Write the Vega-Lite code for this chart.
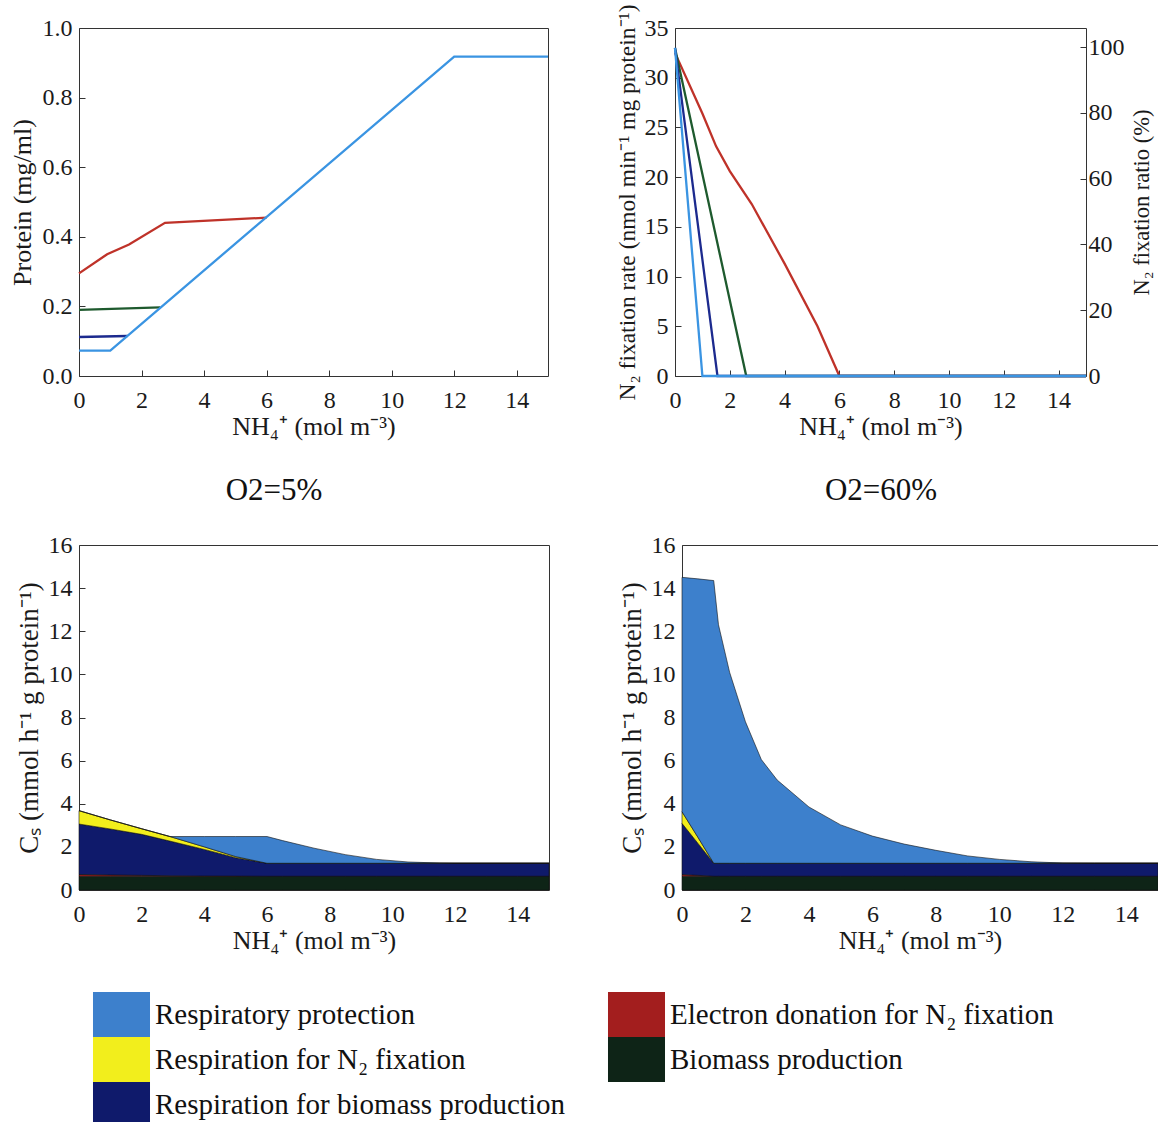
{
  "$schema": "https://vega.github.io/schema/vega-lite/v6.json",
  "padding": {"left": 8, "top": 3, "right": 0, "bottom": 0},
  "background": "white",
  "config": {
    "font": "Liberation Serif",
    "view": {"stroke": "#333", "strokeWidth": 1},
    "axis": {"labelFont": "Liberation Serif", "labelFontSize": 24, "labelColor": "#1a1a1a", "titleFont": "Liberation Serif", "titleFontSize": 26, "titleFontWeight": "normal", "titleColor": "#1a1a1a", "domain": false, "grid": false, "tickColor": "#333", "tickSize": -6, "tickWidth": 1, "labelFlush": false, "labelOverlap": false},
    "axisX": {"labelPadding": 18, "titlePadding": 1},
    "axisY": {"labelPadding": 13, "titlePadding": 5},
    "title": {"font": "Liberation Serif", "fontSize": 31, "fontWeight": "normal", "color": "#111"}
  },
  "datasets": {
    "protein": [
      {"s": "A", "x": 0, "p": 0.295}, {"s": "A", "x": 0.9, "p": 0.35}, {"s": "A", "x": 1.6, "p": 0.378}, {"s": "A", "x": 2.75, "p": 0.44}, {"s": "A", "x": 6.0, "p": 0.455},
      {"s": "B", "x": 0, "p": 0.19}, {"s": "B", "x": 2.6, "p": 0.197},
      {"s": "C", "x": 0, "p": 0.112}, {"s": "C", "x": 1.55, "p": 0.115},
      {"s": "D", "x": 0, "p": 0.073}, {"s": "D", "x": 1.0, "p": 0.073}, {"s": "D", "x": 12.0, "p": 0.918}, {"s": "D", "x": 15, "p": 0.918}
    ],
    "fix": [
      {"s": "A", "x": 0, "r": 32.5}, {"s": "A", "x": 1, "r": 26.4}, {"s": "A", "x": 1.5, "r": 23.1}, {"s": "A", "x": 2, "r": 20.6}, {"s": "A", "x": 2.8, "r": 17.3}, {"s": "A", "x": 4, "r": 11.3}, {"s": "A", "x": 5.2, "r": 5.0}, {"s": "A", "x": 6.0, "r": 0}, {"s": "A", "x": 15, "r": 0},
      {"s": "B", "x": 0, "r": 33}, {"s": "B", "x": 2.6, "r": 0}, {"s": "B", "x": 15, "r": 0},
      {"s": "C", "x": 0, "r": 33}, {"s": "C", "x": 1.55, "r": 0}, {"s": "C", "x": 15, "r": 0},
      {"s": "D", "x": 0, "r": 33}, {"s": "D", "x": 1.0, "r": 0}, {"s": "D", "x": 15, "r": 0}
    ],
    "ratio": [{"x": 0, "q": 100}, {"x": 6, "q": 0}],
    "bl": [
      {"c": "Biomass production", "k": 1, "x": 0, "v": 0.64}, {"c": "Biomass production", "k": 1, "x": 1, "v": 0.64}, {"c": "Biomass production", "k": 1, "x": 2, "v": 0.64}, {"c": "Biomass production", "k": 1, "x": 2.9, "v": 0.64}, {"c": "Biomass production", "k": 1, "x": 4, "v": 0.64}, {"c": "Biomass production", "k": 1, "x": 5, "v": 0.64}, {"c": "Biomass production", "k": 1, "x": 6, "v": 0.64}, {"c": "Biomass production", "k": 1, "x": 6.5, "v": 0.64}, {"c": "Biomass production", "k": 1, "x": 7.5, "v": 0.64}, {"c": "Biomass production", "k": 1, "x": 8.5, "v": 0.64}, {"c": "Biomass production", "k": 1, "x": 9.5, "v": 0.64}, {"c": "Biomass production", "k": 1, "x": 10.5, "v": 0.64}, {"c": "Biomass production", "k": 1, "x": 11.5, "v": 0.64}, {"c": "Biomass production", "k": 1, "x": 12, "v": 0.64}, {"c": "Biomass production", "k": 1, "x": 13, "v": 0.64}, {"c": "Biomass production", "k": 1, "x": 14, "v": 0.64}, {"c": "Biomass production", "k": 1, "x": 15, "v": 0.64},
      {"c": "Electron donation for N₂ fixation", "k": 2, "x": 0, "v": 0.08}, {"c": "Electron donation for N₂ fixation", "k": 2, "x": 1, "v": 0.06}, {"c": "Electron donation for N₂ fixation", "k": 2, "x": 2, "v": 0.04}, {"c": "Electron donation for N₂ fixation", "k": 2, "x": 2.9, "v": 0.02}, {"c": "Electron donation for N₂ fixation", "k": 2, "x": 4, "v": 0.01}, {"c": "Electron donation for N₂ fixation", "k": 2, "x": 5, "v": 0.005}, {"c": "Electron donation for N₂ fixation", "k": 2, "x": 6, "v": 0}, {"c": "Electron donation for N₂ fixation", "k": 2, "x": 6.5, "v": 0}, {"c": "Electron donation for N₂ fixation", "k": 2, "x": 7.5, "v": 0}, {"c": "Electron donation for N₂ fixation", "k": 2, "x": 8.5, "v": 0}, {"c": "Electron donation for N₂ fixation", "k": 2, "x": 9.5, "v": 0}, {"c": "Electron donation for N₂ fixation", "k": 2, "x": 10.5, "v": 0}, {"c": "Electron donation for N₂ fixation", "k": 2, "x": 11.5, "v": 0}, {"c": "Electron donation for N₂ fixation", "k": 2, "x": 12, "v": 0}, {"c": "Electron donation for N₂ fixation", "k": 2, "x": 13, "v": 0}, {"c": "Electron donation for N₂ fixation", "k": 2, "x": 14, "v": 0}, {"c": "Electron donation for N₂ fixation", "k": 2, "x": 15, "v": 0},
      {"c": "Respiration for biomass production", "k": 3, "x": 0, "v": 2.34}, {"c": "Respiration for biomass production", "k": 3, "x": 1, "v": 2.13}, {"c": "Respiration for biomass production", "k": 3, "x": 2, "v": 1.9}, {"c": "Respiration for biomass production", "k": 3, "x": 2.9, "v": 1.61}, {"c": "Respiration for biomass production", "k": 3, "x": 4, "v": 1.23}, {"c": "Respiration for biomass production", "k": 3, "x": 5, "v": 0.855}, {"c": "Respiration for biomass production", "k": 3, "x": 6, "v": 0.6}, {"c": "Respiration for biomass production", "k": 3, "x": 6.5, "v": 0.6}, {"c": "Respiration for biomass production", "k": 3, "x": 7.5, "v": 0.6}, {"c": "Respiration for biomass production", "k": 3, "x": 8.5, "v": 0.6}, {"c": "Respiration for biomass production", "k": 3, "x": 9.5, "v": 0.6}, {"c": "Respiration for biomass production", "k": 3, "x": 10.5, "v": 0.6}, {"c": "Respiration for biomass production", "k": 3, "x": 11.5, "v": 0.6}, {"c": "Respiration for biomass production", "k": 3, "x": 12, "v": 0.6}, {"c": "Respiration for biomass production", "k": 3, "x": 13, "v": 0.6}, {"c": "Respiration for biomass production", "k": 3, "x": 14, "v": 0.6}, {"c": "Respiration for biomass production", "k": 3, "x": 15, "v": 0.6},
      {"c": "Respiration for N₂ fixation", "k": 4, "x": 0, "v": 0.62}, {"c": "Respiration for N₂ fixation", "k": 4, "x": 1, "v": 0.42}, {"c": "Respiration for N₂ fixation", "k": 4, "x": 2, "v": 0.26}, {"c": "Respiration for N₂ fixation", "k": 4, "x": 2.9, "v": 0.21}, {"c": "Respiration for N₂ fixation", "k": 4, "x": 4, "v": 0.12}, {"c": "Respiration for N₂ fixation", "k": 4, "x": 5, "v": 0.05}, {"c": "Respiration for N₂ fixation", "k": 4, "x": 6, "v": 0}, {"c": "Respiration for N₂ fixation", "k": 4, "x": 6.5, "v": 0}, {"c": "Respiration for N₂ fixation", "k": 4, "x": 7.5, "v": 0}, {"c": "Respiration for N₂ fixation", "k": 4, "x": 8.5, "v": 0}, {"c": "Respiration for N₂ fixation", "k": 4, "x": 9.5, "v": 0}, {"c": "Respiration for N₂ fixation", "k": 4, "x": 10.5, "v": 0}, {"c": "Respiration for N₂ fixation", "k": 4, "x": 11.5, "v": 0}, {"c": "Respiration for N₂ fixation", "k": 4, "x": 12, "v": 0}, {"c": "Respiration for N₂ fixation", "k": 4, "x": 13, "v": 0}, {"c": "Respiration for N₂ fixation", "k": 4, "x": 14, "v": 0}, {"c": "Respiration for N₂ fixation", "k": 4, "x": 15, "v": 0},
      {"c": "Respiratory protection", "k": 5, "x": 0, "v": 0}, {"c": "Respiratory protection", "k": 5, "x": 1, "v": 0}, {"c": "Respiratory protection", "k": 5, "x": 2, "v": 0}, {"c": "Respiratory protection", "k": 5, "x": 2.9, "v": 0}, {"c": "Respiratory protection", "k": 5, "x": 4, "v": 0.48}, {"c": "Respiratory protection", "k": 5, "x": 5, "v": 0.93}, {"c": "Respiratory protection", "k": 5, "x": 6, "v": 1.24}, {"c": "Respiratory protection", "k": 5, "x": 6.5, "v": 1.05}, {"c": "Respiratory protection", "k": 5, "x": 7.5, "v": 0.7}, {"c": "Respiratory protection", "k": 5, "x": 8.5, "v": 0.4}, {"c": "Respiratory protection", "k": 5, "x": 9.5, "v": 0.18}, {"c": "Respiratory protection", "k": 5, "x": 10.5, "v": 0.06}, {"c": "Respiratory protection", "k": 5, "x": 11.5, "v": 0.01}, {"c": "Respiratory protection", "k": 5, "x": 12, "v": 0}, {"c": "Respiratory protection", "k": 5, "x": 13, "v": 0}, {"c": "Respiratory protection", "k": 5, "x": 14, "v": 0}, {"c": "Respiratory protection", "k": 5, "x": 15, "v": 0}
    ],
    "br": [
      {"c": "Biomass production", "k": 1, "x": 0, "v": 0.64}, {"c": "Biomass production", "k": 1, "x": 0.5, "v": 0.64}, {"c": "Biomass production", "k": 1, "x": 1, "v": 0.64}, {"c": "Biomass production", "k": 1, "x": 1.15, "v": 0.64}, {"c": "Biomass production", "k": 1, "x": 1.5, "v": 0.64}, {"c": "Biomass production", "k": 1, "x": 2, "v": 0.64}, {"c": "Biomass production", "k": 1, "x": 2.5, "v": 0.64}, {"c": "Biomass production", "k": 1, "x": 3, "v": 0.64}, {"c": "Biomass production", "k": 1, "x": 4, "v": 0.64}, {"c": "Biomass production", "k": 1, "x": 5, "v": 0.64}, {"c": "Biomass production", "k": 1, "x": 6, "v": 0.64}, {"c": "Biomass production", "k": 1, "x": 7, "v": 0.64}, {"c": "Biomass production", "k": 1, "x": 8, "v": 0.64}, {"c": "Biomass production", "k": 1, "x": 9, "v": 0.64}, {"c": "Biomass production", "k": 1, "x": 10, "v": 0.64}, {"c": "Biomass production", "k": 1, "x": 11, "v": 0.64}, {"c": "Biomass production", "k": 1, "x": 12, "v": 0.64}, {"c": "Biomass production", "k": 1, "x": 13, "v": 0.64}, {"c": "Biomass production", "k": 1, "x": 14, "v": 0.64}, {"c": "Biomass production", "k": 1, "x": 15, "v": 0.64},
      {"c": "Electron donation for N₂ fixation", "k": 2, "x": 0, "v": 0.08}, {"c": "Electron donation for N₂ fixation", "k": 2, "x": 0.5, "v": 0.04}, {"c": "Electron donation for N₂ fixation", "k": 2, "x": 1, "v": 0}, {"c": "Electron donation for N₂ fixation", "k": 2, "x": 1.15, "v": 0}, {"c": "Electron donation for N₂ fixation", "k": 2, "x": 1.5, "v": 0}, {"c": "Electron donation for N₂ fixation", "k": 2, "x": 2, "v": 0}, {"c": "Electron donation for N₂ fixation", "k": 2, "x": 2.5, "v": 0}, {"c": "Electron donation for N₂ fixation", "k": 2, "x": 3, "v": 0}, {"c": "Electron donation for N₂ fixation", "k": 2, "x": 4, "v": 0}, {"c": "Electron donation for N₂ fixation", "k": 2, "x": 5, "v": 0}, {"c": "Electron donation for N₂ fixation", "k": 2, "x": 6, "v": 0}, {"c": "Electron donation for N₂ fixation", "k": 2, "x": 7, "v": 0}, {"c": "Electron donation for N₂ fixation", "k": 2, "x": 8, "v": 0}, {"c": "Electron donation for N₂ fixation", "k": 2, "x": 9, "v": 0}, {"c": "Electron donation for N₂ fixation", "k": 2, "x": 10, "v": 0}, {"c": "Electron donation for N₂ fixation", "k": 2, "x": 11, "v": 0}, {"c": "Electron donation for N₂ fixation", "k": 2, "x": 12, "v": 0}, {"c": "Electron donation for N₂ fixation", "k": 2, "x": 13, "v": 0}, {"c": "Electron donation for N₂ fixation", "k": 2, "x": 14, "v": 0}, {"c": "Electron donation for N₂ fixation", "k": 2, "x": 15, "v": 0},
      {"c": "Respiration for biomass production", "k": 3, "x": 0, "v": 2.37}, {"c": "Respiration for biomass production", "k": 3, "x": 0.5, "v": 1.49}, {"c": "Respiration for biomass production", "k": 3, "x": 1, "v": 0.6}, {"c": "Respiration for biomass production", "k": 3, "x": 1.15, "v": 0.6}, {"c": "Respiration for biomass production", "k": 3, "x": 1.5, "v": 0.6}, {"c": "Respiration for biomass production", "k": 3, "x": 2, "v": 0.6}, {"c": "Respiration for biomass production", "k": 3, "x": 2.5, "v": 0.6}, {"c": "Respiration for biomass production", "k": 3, "x": 3, "v": 0.6}, {"c": "Respiration for biomass production", "k": 3, "x": 4, "v": 0.6}, {"c": "Respiration for biomass production", "k": 3, "x": 5, "v": 0.6}, {"c": "Respiration for biomass production", "k": 3, "x": 6, "v": 0.6}, {"c": "Respiration for biomass production", "k": 3, "x": 7, "v": 0.6}, {"c": "Respiration for biomass production", "k": 3, "x": 8, "v": 0.6}, {"c": "Respiration for biomass production", "k": 3, "x": 9, "v": 0.6}, {"c": "Respiration for biomass production", "k": 3, "x": 10, "v": 0.6}, {"c": "Respiration for biomass production", "k": 3, "x": 11, "v": 0.6}, {"c": "Respiration for biomass production", "k": 3, "x": 12, "v": 0.6}, {"c": "Respiration for biomass production", "k": 3, "x": 13, "v": 0.6}, {"c": "Respiration for biomass production", "k": 3, "x": 14, "v": 0.6}, {"c": "Respiration for biomass production", "k": 3, "x": 15, "v": 0.6},
      {"c": "Respiration for N₂ fixation", "k": 4, "x": 0, "v": 0.54}, {"c": "Respiration for N₂ fixation", "k": 4, "x": 0.5, "v": 0.28}, {"c": "Respiration for N₂ fixation", "k": 4, "x": 1, "v": 0}, {"c": "Respiration for N₂ fixation", "k": 4, "x": 1.15, "v": 0}, {"c": "Respiration for N₂ fixation", "k": 4, "x": 1.5, "v": 0}, {"c": "Respiration for N₂ fixation", "k": 4, "x": 2, "v": 0}, {"c": "Respiration for N₂ fixation", "k": 4, "x": 2.5, "v": 0}, {"c": "Respiration for N₂ fixation", "k": 4, "x": 3, "v": 0}, {"c": "Respiration for N₂ fixation", "k": 4, "x": 4, "v": 0}, {"c": "Respiration for N₂ fixation", "k": 4, "x": 5, "v": 0}, {"c": "Respiration for N₂ fixation", "k": 4, "x": 6, "v": 0}, {"c": "Respiration for N₂ fixation", "k": 4, "x": 7, "v": 0}, {"c": "Respiration for N₂ fixation", "k": 4, "x": 8, "v": 0}, {"c": "Respiration for N₂ fixation", "k": 4, "x": 9, "v": 0}, {"c": "Respiration for N₂ fixation", "k": 4, "x": 10, "v": 0}, {"c": "Respiration for N₂ fixation", "k": 4, "x": 11, "v": 0}, {"c": "Respiration for N₂ fixation", "k": 4, "x": 12, "v": 0}, {"c": "Respiration for N₂ fixation", "k": 4, "x": 13, "v": 0}, {"c": "Respiration for N₂ fixation", "k": 4, "x": 14, "v": 0}, {"c": "Respiration for N₂ fixation", "k": 4, "x": 15, "v": 0},
      {"c": "Respiratory protection", "k": 5, "x": 0, "v": 10.87}, {"c": "Respiratory protection", "k": 5, "x": 0.5, "v": 11.98}, {"c": "Respiratory protection", "k": 5, "x": 1, "v": 13.11}, {"c": "Respiratory protection", "k": 5, "x": 1.15, "v": 11.06}, {"c": "Respiratory protection", "k": 5, "x": 1.5, "v": 8.86}, {"c": "Respiratory protection", "k": 5, "x": 2, "v": 6.56}, {"c": "Respiratory protection", "k": 5, "x": 2.5, "v": 4.81}, {"c": "Respiratory protection", "k": 5, "x": 3, "v": 3.86}, {"c": "Respiratory protection", "k": 5, "x": 4, "v": 2.61}, {"c": "Respiratory protection", "k": 5, "x": 5, "v": 1.78}, {"c": "Respiratory protection", "k": 5, "x": 6, "v": 1.26}, {"c": "Respiratory protection", "k": 5, "x": 7, "v": 0.89}, {"c": "Respiratory protection", "k": 5, "x": 8, "v": 0.6}, {"c": "Respiratory protection", "k": 5, "x": 9, "v": 0.34}, {"c": "Respiratory protection", "k": 5, "x": 10, "v": 0.18}, {"c": "Respiratory protection", "k": 5, "x": 11, "v": 0.07}, {"c": "Respiratory protection", "k": 5, "x": 12, "v": 0.01}, {"c": "Respiratory protection", "k": 5, "x": 13, "v": 0}, {"c": "Respiratory protection", "k": 5, "x": 14, "v": 0}, {"c": "Respiratory protection", "k": 5, "x": 15, "v": 0}
    ]
  },
  "bounds": "flush",
  "spacing": 517,
  "vconcat": [
    {
      "bounds": "flush",
      "spacing": 127,
      "hconcat": [
        {
          "width": 469, "height": 348,
          "data": {"name": "protein"},
          "mark": {"type": "line", "strokeWidth": 2.3},
          "encoding": {
            "x": {"field": "x", "type": "quantitative", "scale": {"domain": [0, 15], "nice": false}, "axis": {"values": [0, 2, 4, 6, 8, 10, 12, 14], "title": "NH₄⁺ (mol m⁻³)"}},
            "y": {"field": "p", "type": "quantitative", "scale": {"domain": [0, 1], "nice": false}, "axis": {"values": [0, 0.2, 0.4, 0.6, 0.8, 1.0], "format": ".1f", "title": "Protein (mg/ml)", "titlePadding": 7}},
            "stroke": {"field": "s", "type": "nominal", "scale": {"domain": ["A", "B", "C", "D"], "range": ["#bf3229", "#1e5a2e", "#1c2a8e", "#3a94e2"]}, "legend": null}
          }
        },
        {
          "width": 411, "height": 348,
          "layer": [
            {
              "data": {"name": "fix"},
              "mark": {"type": "line", "strokeWidth": 2.3},
              "encoding": {
                "x": {"field": "x", "type": "quantitative", "scale": {"domain": [0, 15], "nice": false}, "axis": {"values": [0, 2, 4, 6, 8, 10, 12, 14], "title": "NH₄⁺ (mol m⁻³)"}},
                "y": {"field": "r", "type": "quantitative", "scale": {"domain": [0, 35], "nice": false}, "axis": {"values": [0, 5, 10, 15, 20, 25, 30, 35], "title": "N₂ fixation rate (nmol min⁻¹ mg protein⁻¹)", "titleFontSize": 23.5}},
                "stroke": {"field": "s", "type": "nominal", "scale": {"domain": ["A", "B", "C", "D"], "range": ["#bf3229", "#1e5a2e", "#1c2a8e", "#3a94e2"]}, "legend": null}
              }
            },
            {
              "data": {"name": "ratio"},
              "mark": {"type": "point", "opacity": 0},
              "encoding": {
                "x": {"field": "x", "type": "quantitative", "scale": {"domain": [0, 15], "nice": false}},
                "y": {"field": "q", "type": "quantitative", "scale": {"domain": [0, 105.8], "nice": false}, "axis": {"orient": "right", "values": [0, 20, 40, 60, 80, 100], "title": "N₂ fixation ratio (%)", "titleFontSize": 22.5, "titleAngle": 270, "titleBaseline": "top", "labelPadding": 8, "titlePadding": 6}}
              }
            }
          ],
          "resolve": {"scale": {"y": "independent"}}
        }
      ]
    },
    {
      "bounds": "flush",
      "spacing": 133,
      "hconcat": [
        {
          "width": 470, "height": 345,
          "title": {"text": "O2=5%", "anchor": "middle", "offset": 26, "dx": -40},
          "data": {"name": "bl"},
          "mark": {"type": "area", "opacity": 1, "stroke": "#111", "strokeWidth": 0.6},
          "encoding": {
            "x": {"field": "x", "type": "quantitative", "scale": {"domain": [0, 15], "nice": false}, "axis": {"values": [0, 2, 4, 6, 8, 10, 12, 14], "title": "NH₄⁺ (mol m⁻³)"}},
            "y": {"field": "v", "type": "quantitative", "stack": "zero", "scale": {"domain": [0, 16], "nice": false}, "axis": {"values": [0, 2, 4, 6, 8, 10, 12, 14, 16], "title": "Cₛ (mmol h⁻¹ g protein⁻¹)", "titleFontSize": 27}},
            "color": {"field": "c", "type": "nominal", "scale": {"domain": ["Respiratory protection", "Respiration for N₂ fixation", "Respiration for biomass production", "Electron donation for N₂ fixation", "Biomass production"], "range": ["#3d80cc", "#f2ee1c", "#0f1a6b", "#a31e1e", "#0e2417"]},
              "legend": {"orient": "none", "legendX": 14, "legendY": 964, "columns": 2, "title": null, "symbolType": "M-1.267,-1L1.267,-1L1.267,1L-1.267,1Z", "symbolSize": 2025, "symbolOffset": 6, "symbolStrokeWidth": 0, "symbolOpacity": 1, "labelFont": "Liberation Serif", "labelFontSize": 29, "labelColor": "#111", "labelOffset": 11, "labelLimit": 700, "rowPadding": 0, "columnPadding": 42}},
            "order": {"field": "k", "type": "quantitative"}
          }
        },
        {
          "width": 476, "height": 345,
          "title": {"text": "O2=60%", "anchor": "middle", "offset": 26, "dx": -39},
          "data": {"name": "br"},
          "mark": {"type": "area", "opacity": 1, "stroke": "#111", "strokeWidth": 0.6},
          "encoding": {
            "x": {"field": "x", "type": "quantitative", "scale": {"domain": [0, 15], "nice": false}, "axis": {"values": [0, 2, 4, 6, 8, 10, 12, 14], "title": "NH₄⁺ (mol m⁻³)"}},
            "y": {"field": "v", "type": "quantitative", "stack": "zero", "scale": {"domain": [0, 16], "nice": false}, "axis": {"values": [0, 2, 4, 6, 8, 10, 12, 14, 16], "title": "Cₛ (mmol h⁻¹ g protein⁻¹)", "titleFontSize": 27}},
            "color": {"field": "c", "type": "nominal", "scale": {"domain": ["Respiratory protection", "Respiration for N₂ fixation", "Respiration for biomass production", "Electron donation for N₂ fixation", "Biomass production"], "range": ["#3d80cc", "#f2ee1c", "#0f1a6b", "#a31e1e", "#0e2417"]},
              "legend": {"orient": "none", "legendX": 14, "legendY": 964, "columns": 2, "title": null, "symbolType": "M-1.267,-1L1.267,-1L1.267,1L-1.267,1Z", "symbolSize": 2025, "symbolOffset": 6, "symbolStrokeWidth": 0, "symbolOpacity": 1, "labelFont": "Liberation Serif", "labelFontSize": 29, "labelColor": "#111", "labelOffset": 11, "labelLimit": 700, "rowPadding": 0, "columnPadding": 42}},
            "order": {"field": "k", "type": "quantitative"}
          }
        }
      ]
    }
  ]
}
